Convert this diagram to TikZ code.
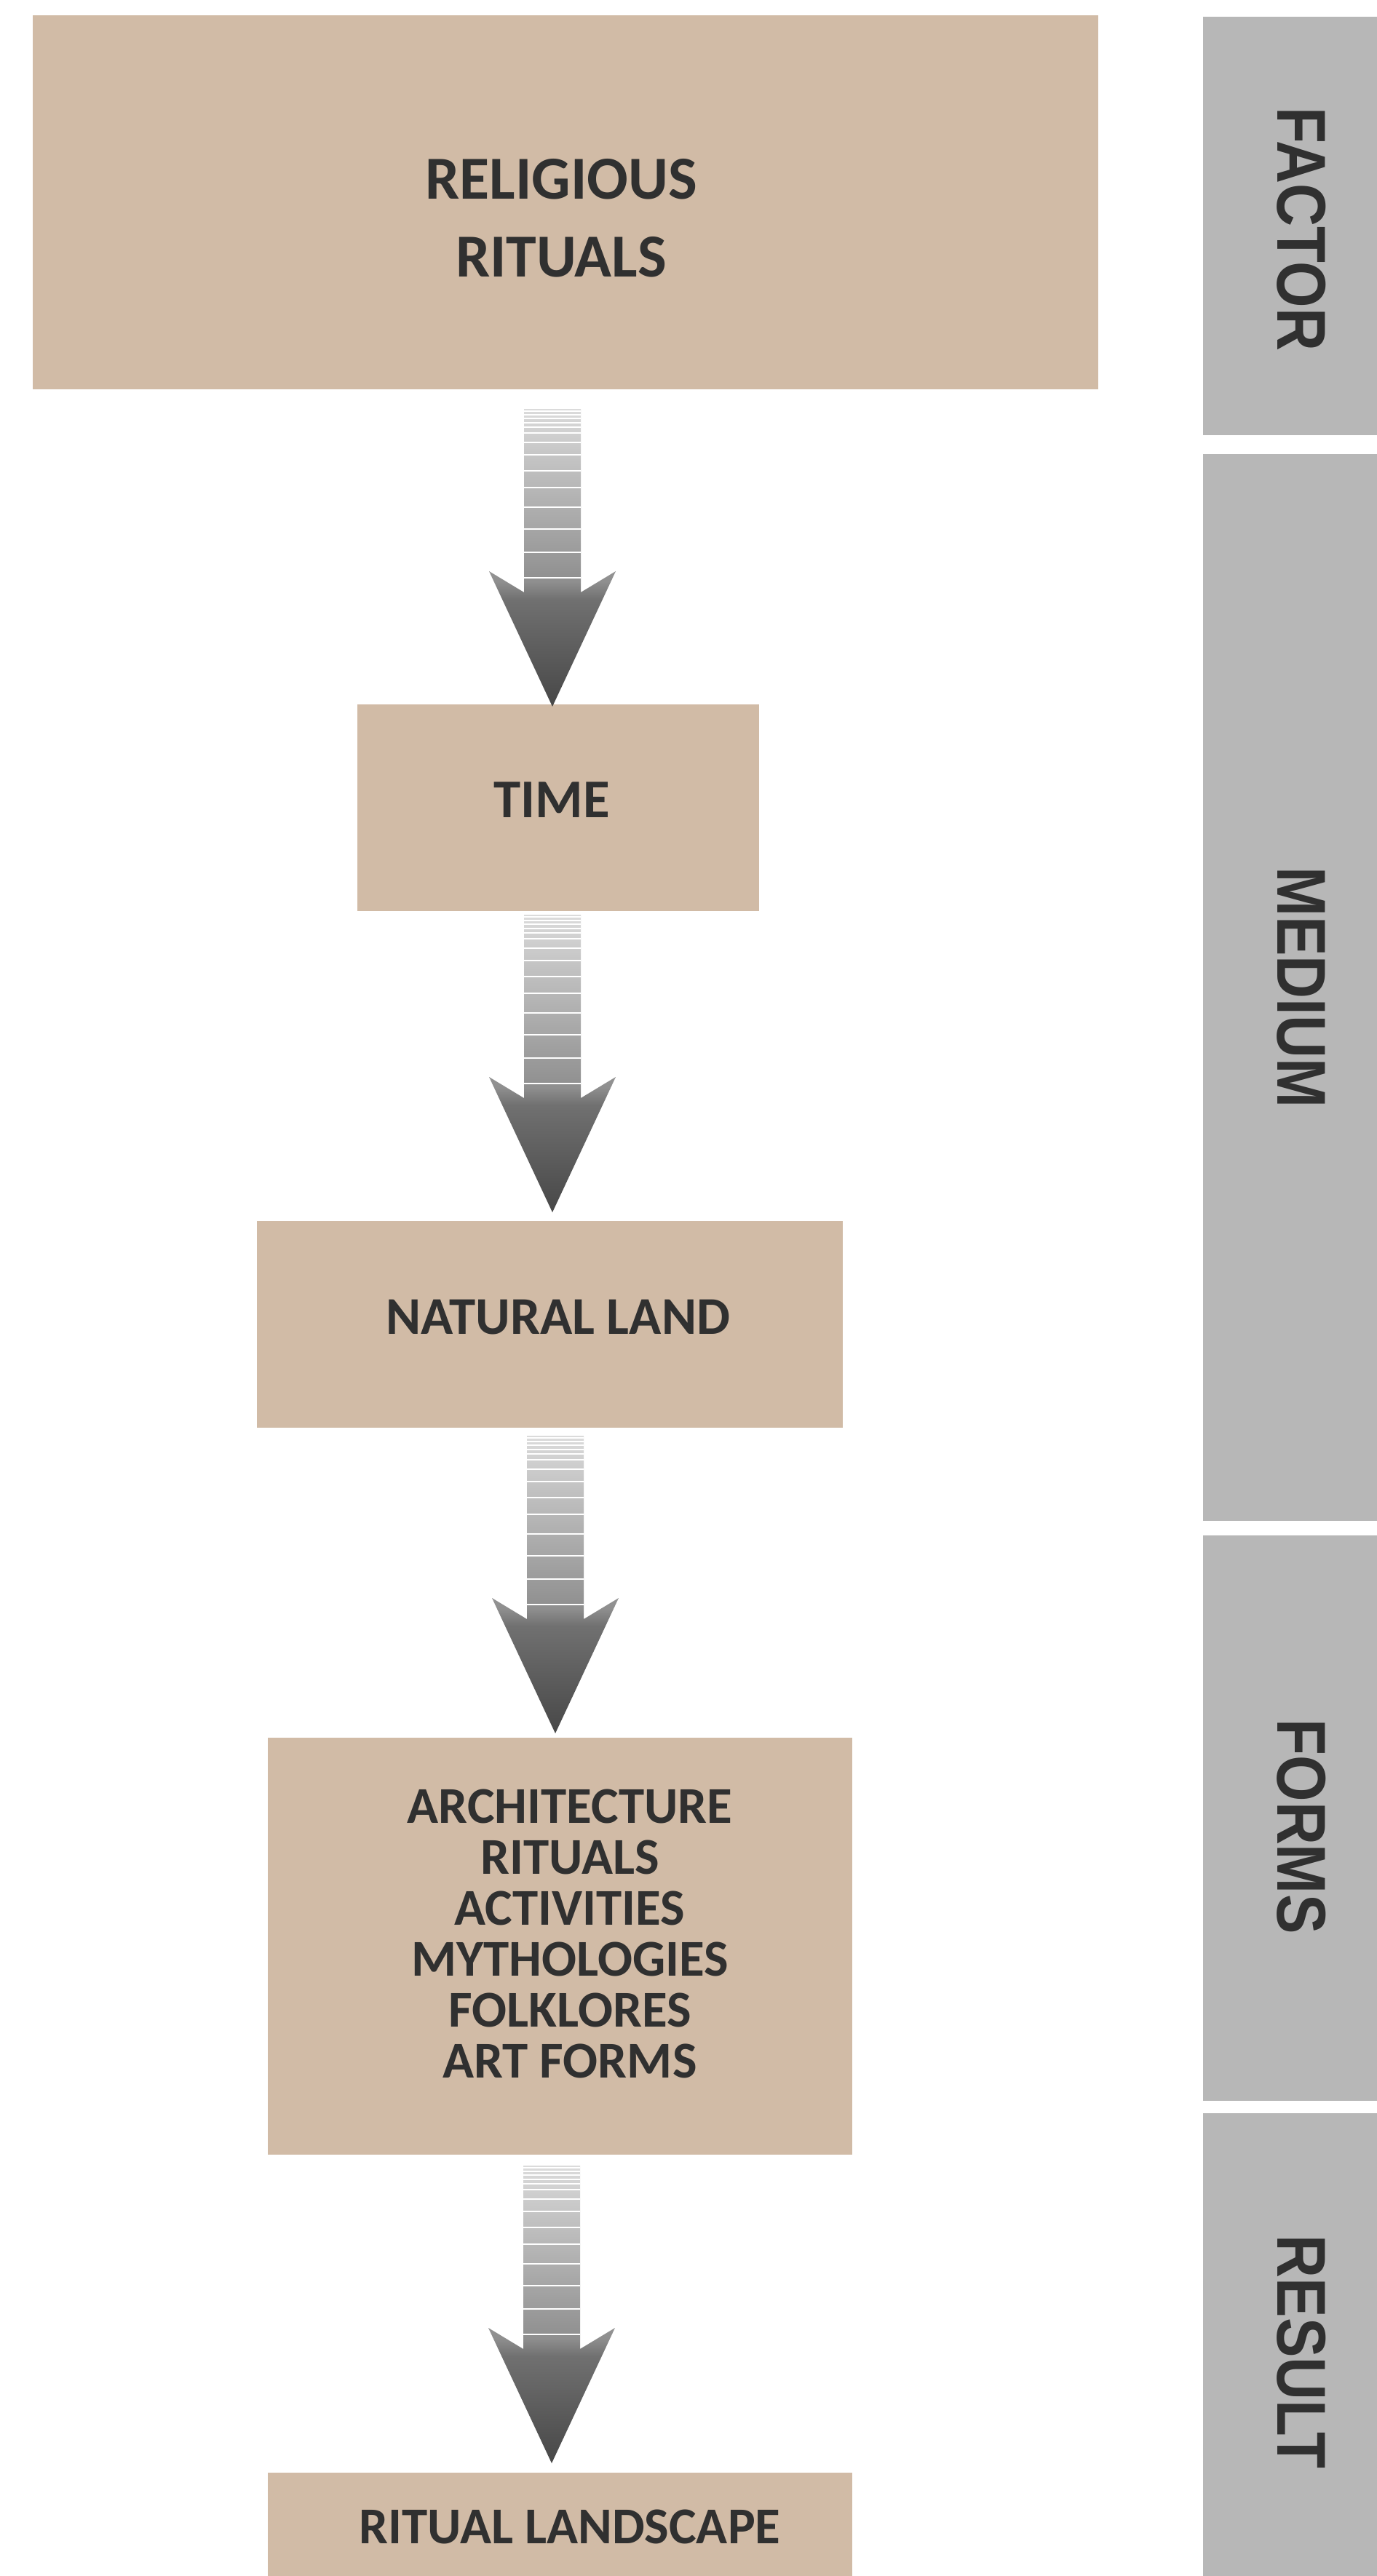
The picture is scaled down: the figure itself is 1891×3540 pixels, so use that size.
\documentclass[tikz,border=0pt]{standalone}
\usepackage{fontspec}
\setmainfont{Carlito}
\newfontfamily\sidefont[FakeStretch=0.86]{Liberation Sans}
\definecolor{tanfill}{HTML}{D1BBA6}
\definecolor{barfill}{HTML}{B7B7B7}
\definecolor{ink}{HTML}{303030}
\pgfdeclareverticalshading{arrowshade}{100bp}{color(0bp)=(black!72); color(25bp)=(black!72); color(43bp)=(black!56); color(46bp)=(black!44); color(56bp)=(black!34); color(66bp)=(black!24); color(75bp)=(black!14); color(100bp)=(black!14)}
\tikzset{
  tanbox/.style={fill=tanfill, draw=none, inner sep=0pt, outer sep=0pt},
  sidebar/.style={fill=barfill, draw=none, inner sep=0pt, outer sep=0pt},
  boxlabel/.style={inner sep=0pt, anchor=base, text=ink, font=\bfseries\fontsize{#1}{#1}\selectfont},
  sidelabel/.style={inner sep=0pt, anchor=base, rotate=-90, text=ink, font=\sidefont\bfseries\fontsize{95}{95}\selectfont},
}
% fat arrow: name, centre x, top y
\newcommand\fatarrow[3]{%
  \coordinate (#1) at (#2,#3);
  \shade[shading=arrowshade] (#2-39,#3) -- (#2+39,#3) -- (#2+39,#3+252) -- (#2+87,#3+223)
     -- (#2,#3+409) -- (#2-87,#3+223) -- (#2-39,#3+252) -- cycle;
  \foreach \s in {3,8,13,19,25,33,46,63,85,108,135,165,197,232}
    \draw[white, line width=2.2pt] (#2-39,#3+\s) -- (#2+39,#3+\s);
}
\begin{document}
\begin{tikzpicture}[x=1pt,y=-1pt]
\useasboundingbox (0,0) rectangle (1891,3540);
\fill[white] (0,0) rectangle (1891,3540);

% side bars
\node[sidebar, minimum width=250pt, minimum height=575pt, anchor=north west] (factor) at (1653,23) {};
\node[sidebar, minimum width=250pt, minimum height=1466pt, anchor=north west] (medium) at (1653,624) {};
\node[sidebar, minimum width=250pt, minimum height=777pt, anchor=north west] (forms) at (1653,2110) {};
\node[sidebar, minimum width=250pt, minimum height=650pt, anchor=north west] (result) at (1653,2904) {};
\node[sidelabel] (factorlbl) at (1755,315) {FACTOR};
\node[sidelabel] (mediumlbl) at (1755,1357) {MEDIUM};
\node[sidelabel] (formslbl) at (1755,2510) {FORMS};
\node[sidelabel] (resultlbl) at (1755,3232) {RESULT};

% main boxes
\node[tanbox, minimum width=1464pt, minimum height=514pt, anchor=north west] (rel) at (45,21) {};
\node[tanbox, minimum width=552pt, minimum height=284pt, anchor=north west] (time) at (491,968) {};
\node[tanbox, minimum width=805pt, minimum height=284pt, anchor=north west] (land) at (353,1678) {};
\node[tanbox, minimum width=803pt, minimum height=573pt, anchor=north west] (frm) at (368,2388) {};
\node[tanbox, minimum width=803pt, minimum height=160pt, anchor=north west] (rl) at (368,3398) {};

% labels
\node[boxlabel=84] (relA) at (771,274) {RELIGIOUS};
\node[boxlabel=84] (relB) at (771,381) {RITUALS};
\node[boxlabel=75] (timelbl) at (758,1123) {TIME};
\node[boxlabel=73] (landlbl) at (767,1833) {NATURAL LAND};
\node[boxlabel=71] (f1) at (783,2505) {ARCHITECTURE};
\node[boxlabel=71] (f2) at (783,2575) {RITUALS};
\node[boxlabel=71] (f3) at (783,2645) {ACTIVITIES};
\node[boxlabel=71] (f4) at (783,2715) {MYTHOLOGIES};
\node[boxlabel=71] (f5) at (783,2785) {FOLKLORES};
\node[boxlabel=71] (f6) at (783,2855) {ART FORMS};
\node[boxlabel=71] (rllbl) at (783,3495) {RITUAL LANDSCAPE};

% arrows between boxes
\fatarrow{arr1}{759}{562}
\fatarrow{arr2}{759}{1257}
\fatarrow{arr3}{763}{1973}
\fatarrow{arr4}{758}{2976}
\end{tikzpicture}
\end{document}
